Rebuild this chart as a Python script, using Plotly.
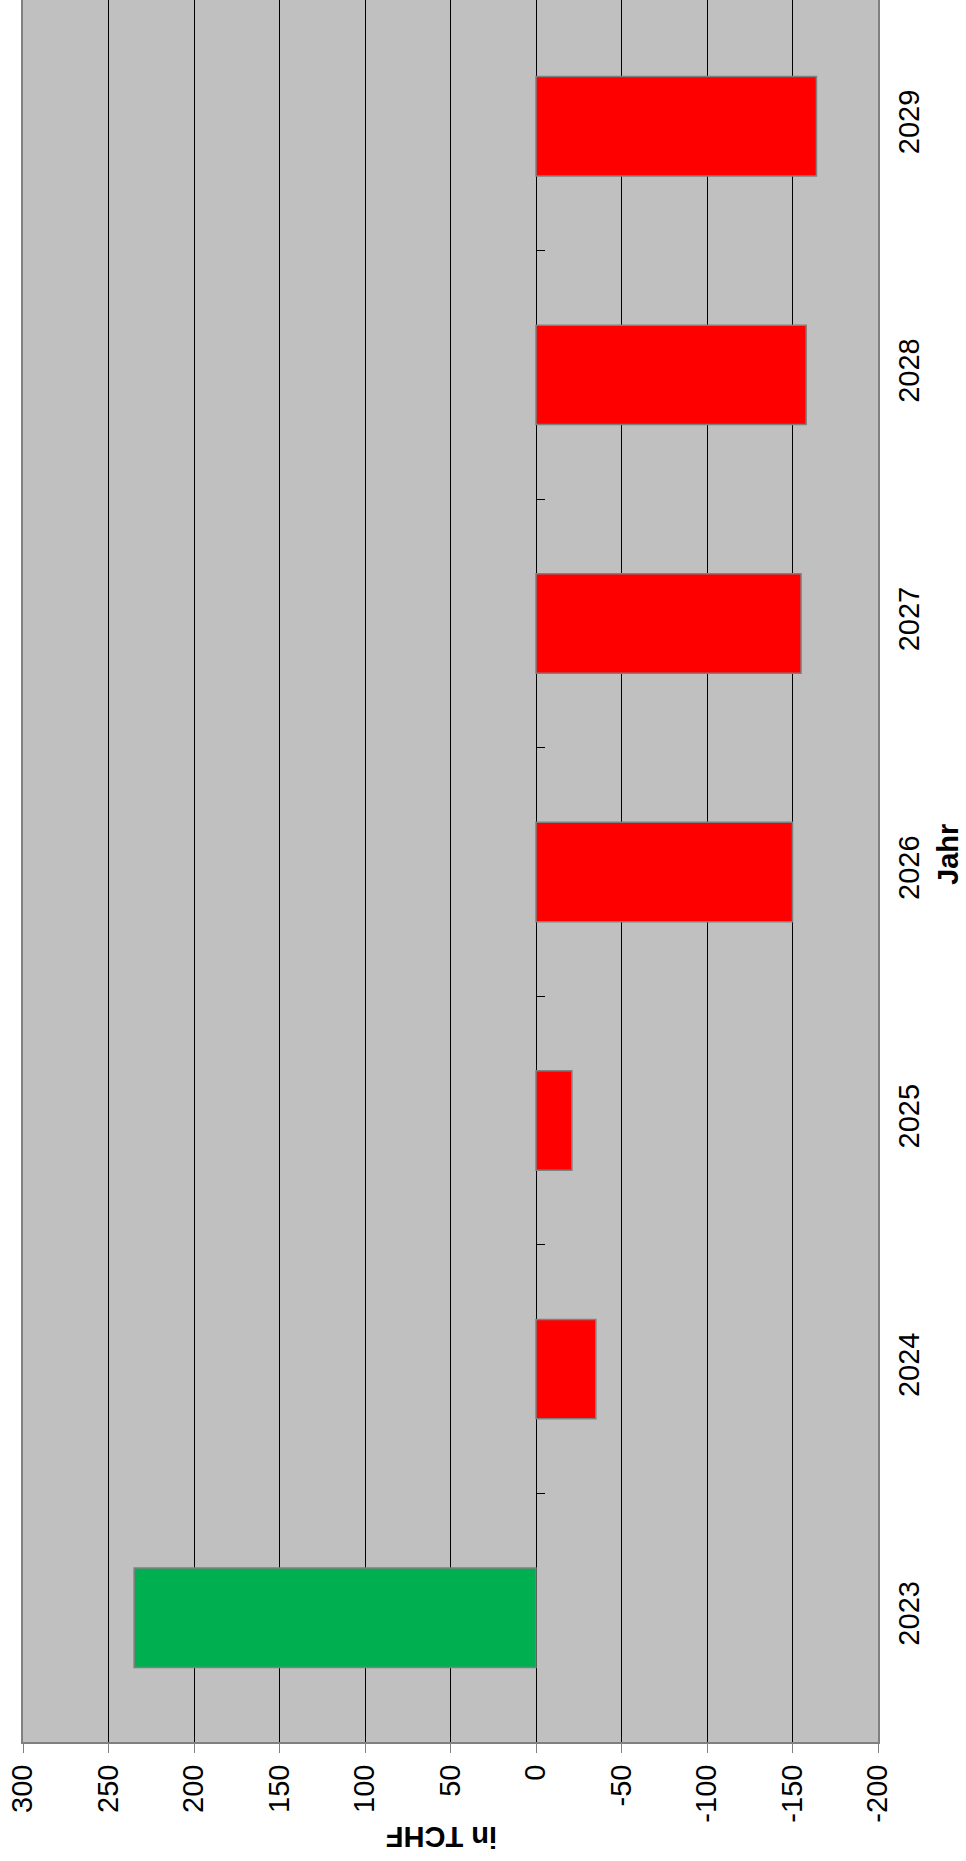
import plotly.graph_objects as go

years = ["2023", "2024", "2025", "2026", "2027", "2028", "2029"]
values = [235, -35, -21, -150, -155, -158, -164]
bar_colors = ["#00B050" if v >= 0 else "#FF0000" for v in values]
value_ticks = [300, 250, 200, 150, 100, 50, 0, -50, -100, -150, -200]
value_title = "in TCHF"
cat_title = "Jahr"

FONT = "Liberation Sans, Arial, sans-serif"

fig = go.Figure()
fig.add_trace(go.Bar(
    x=values, y=years, orientation="h",
    marker=dict(color=bar_colors, line=dict(color="#808080", width=1.5)),
    width=0.4, showlegend=False, hoverinfo="skip",
))

n = len(years)
boundaries = [i + 0.5 for i in range(n - 1)]
yrange = [-0.5, n - 0.5 + 0.008]

fig.update_layout(
    width=966, height=1861,
    margin=dict(l=23, r=88, t=0, b=119),
    paper_bgcolor="white", plot_bgcolor="#C0C0C0",
    font=dict(family=FONT, size=29, color="black"),
    xaxis=dict(
        range=[300, -200], tickvals=value_ticks,
        ticktext=[str(v) for v in value_ticks],
        tickangle=-90, ticks="outside", ticklen=9, tickcolor="#808080", tickwidth=1,
        showline=True, linecolor="#808080", linewidth=2,
        showgrid=True, gridcolor="#000000", gridwidth=1,
        zeroline=True, zerolinecolor="#000000", zerolinewidth=1,
        tickfont=dict(size=29), ticklabelstandoff=0,
    ),
    yaxis=dict(
        type="category", categoryorder="array", categoryarray=years,
        range=yrange, side="right", tickangle=-90, ticks="",
        showline=True, mirror=True, linecolor="#808080", linewidth=2,
        showgrid=False, zeroline=False, tickfont=dict(size=29),
        ticklabelstandoff=4,
    ),
    yaxis2=dict(
        overlaying="y", anchor="free", position=512 / 855, side="right",
        range=yrange, tickvals=boundaries, ticks="outside", ticklen=9,
        tickcolor="#000000", tickwidth=1, showticklabels=False,
        showgrid=False, zeroline=False, showline=False,
    ),
    annotations=[
        dict(text="<b>" + cat_title + "</b>", xref="paper", yref="paper",
             x=(948 - 23) / 855, y=(1742 - 855) / 1742, showarrow=False,
             textangle=-90, xanchor="center", yanchor="middle",
             font=dict(size=29, family=FONT)),
        dict(text="<b>" + value_title + "</b>", xref="paper", yref="paper",
             x=(442 - 23) / 855, y=(1742 - 1837) / 1742, showarrow=False,
             textangle=180, xanchor="center", yanchor="middle",
             font=dict(size=29, family=FONT)),
    ],
)
fig.add_trace(go.Scatter(x=[None], y=[None], yaxis="y2", showlegend=False, hoverinfo="skip"))

fig.write_html(
    "out.html",
    config={"displayModeBar": False},
    post_script="document.body.style.margin='0';document.body.style.overflow='hidden';",
)
